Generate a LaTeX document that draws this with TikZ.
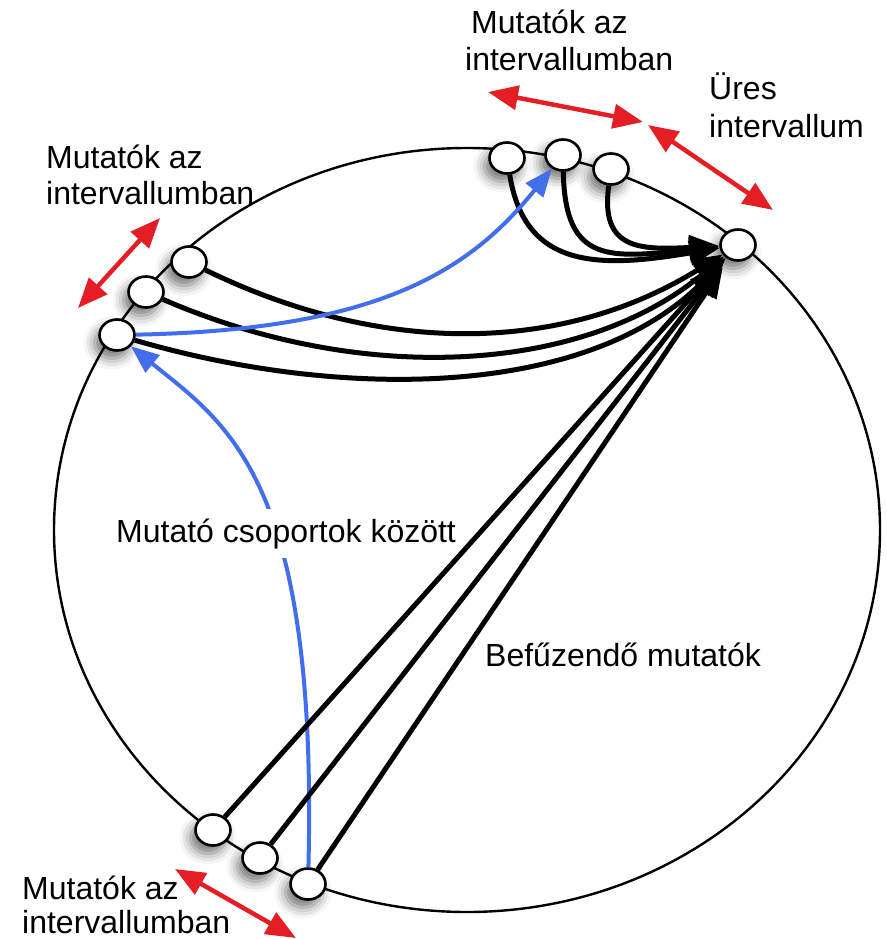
\documentclass[tikz,border=0pt]{standalone}
\usepackage{fontspec}
\setmainfont{Liberation Sans}
\usepackage{tikz}
\usetikzlibrary{arrows.meta,shapes.geometric,shadows.blur}
\definecolor{spancolor}{RGB}{228,30,36}
\definecolor{linkcolor}{RGB}{66,110,235}
\tikzset{
  ring/.style={
    draw=black,
    line width=2.4pt
  },
  ptr/.style={
    ellipse,
    draw=black,
    fill=white,
    line width=2.6pt,
    minimum width=35pt,
    minimum height=31pt,
    inner sep=0pt,
    blur shadow={shadow xshift=-5pt, shadow yshift=-8pt, shadow blur radius=11pt, shadow opacity=55}
  },
  pointer/.style={
    -{Triangle[length=30pt,width=24pt]},
    line width=5pt,
    draw=black
  },
  link/.style={
    -{Triangle[length=28pt,width=22pt]},
    line width=4pt,
    draw=linkcolor
  },
  span/.style={
    {Triangle[length=30pt,width=24pt]}-{Triangle[length=30pt,width=24pt]},
    line width=4.5pt,
    draw=spancolor
  },
  caption/.style={
    font=\fontsize{32}{37}\selectfont,
    text=black,
    inner sep=0pt,
    anchor=base west
  }
}

\begin{document}
\begin{tikzpicture}[x=1pt, y=-1pt]
  \useasboundingbox (0,0) rectangle (886,939);

  % the ring
  \draw[ring] (467,530) ellipse [x radius=413pt, y radius=382pt];

  % pointers on the ring
  \node[ptr] (l1) at (189,262) {};
  \node[ptr] (l2) at (146,292) {};
  \node[ptr] (l3) at (117,335) {};
  \node[ptr] (t1) at (507,158) {};
  \node[ptr] (t2) at (563,155) {};
  \node[ptr] (t3) at (611,169) {};
  \node[ptr] (r)  at (738,245) {};
  \node[ptr] (b1) at (213,830) {};
  \node[ptr] (b2) at (260,858) {};
  \node[ptr] (b3) at (308,884) {};

  % pointers into the new node
  \draw[pointer] (l1) .. controls (380,355) and (560,355) .. (r);
  \draw[pointer] (l2) .. controls (360,385) and (580,375) .. (r);
  \draw[pointer] (l3) .. controls (340,400) and (590,400) .. (r);
  \draw[pointer] (t1) .. controls (525,270) and (600,268) .. (r);
  \draw[pointer] (t2) .. controls (565,265) and (610,258) .. (r);
  \draw[pointer] (t3) .. controls (600,250) and (640,250) .. (r);

  % between groups
  \draw[link] (l3) .. controls (380,330) and (470,270) .. (t2);
  \draw[link] (b3) .. controls (318,480) and (228,425) .. (l3);
  \node[caption, fill=white, inner xsep=2pt, inner ysep=9pt] (groups) at (114,542) {Mutató csoportok között};

  % from the bottom group
  \draw[pointer, shorten >=10pt] (b1) -- (r);
  \draw[pointer, shorten >=10pt] (b2) -- (r);
  \draw[pointer, shorten >=10pt] (b3) -- (r);

  % intervals
  \coordinate (ta1) at (488,92);
  \coordinate (ta2) at (643,122);
  \coordinate (ea1) at (648,125);
  \coordinate (ea2) at (773,210);
  \coordinate (la1) at (160,218);
  \coordinate (la2) at (78,308);
  \coordinate (ba1) at (175,869);
  \coordinate (ba2) at (296,938);
  \draw[span] (ta1) -- (ta2);
  \draw[span] (ea1) -- (ea2);
  \draw[span] (la1) -- (la2);
  \draw[span] (ba1) -- (ba2);

  % labels
  \node[caption] (topa) at (471,34) {Mutatók az};
  \node[caption] (topb) at (465,71) {intervallumban};
  \node[caption] (emptya) at (709,100) {Üres};
  \node[caption] (emptyb) at (709,138) {intervallum};
  \node[caption] (lefta) at (46,168) {Mutatók az};
  \node[caption] (leftb) at (46,204) {intervallumban};
  \node[caption] (bota) at (22,899) {Mutatók az};
  \node[caption] (botb) at (22,933) {intervallumban};
  \node[caption] (insert) at (485,666) {Befűzendő mutatók};
\end{tikzpicture}
\end{document}
